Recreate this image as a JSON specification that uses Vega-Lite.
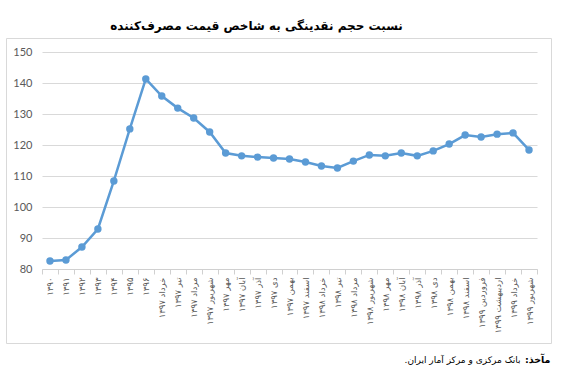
{
  "$schema": "https://vega.github.io/schema/vega-lite/v6.json",
  "width": 545,
  "height": 305,
  "autosize": {"type": "none"},
  "padding": {"left": 6, "top": 38, "right": 12, "bottom": 31},
  "background": "white",
  "title": {
    "text": "نسبت حجم نقدینگی به شاخص قیمت مصرف‌کننده",
    "font": "DejaVu Sans",
    "fontSize": 12,
    "fontWeight": "bold",
    "color": "#000000",
    "anchor": "middle",
    "frame": "group",
    "dx": -22,
    "offset": 5
  },
  "config": {
    "view": {"stroke": "#d9d9d9", "strokeWidth": 1}
  },
  "data": {
    "values": [
      {"label": "۱۳۹۰", "value": 82.6},
      {"label": "۱۳۹۱", "value": 82.9},
      {"label": "۱۳۹۲", "value": 87.1},
      {"label": "۱۳۹۳", "value": 92.9},
      {"label": "۱۳۹۴", "value": 108.4},
      {"label": "۱۳۹۵", "value": 125.2},
      {"label": "۱۳۹۶", "value": 141.3},
      {"label": "خرداد ۱۳۹۷", "value": 135.8},
      {"label": "تیر ۱۳۹۷", "value": 131.9},
      {"label": "مرداد ۱۳۹۷", "value": 128.7},
      {"label": "شهریور ۱۳۹۷", "value": 124.2},
      {"label": "مهر ۱۳۹۷", "value": 117.4},
      {"label": "آبان ۱۳۹۷", "value": 116.5},
      {"label": "آذر ۱۳۹۷", "value": 116.1},
      {"label": "دی ۱۳۹۷", "value": 115.8},
      {"label": "بهمن ۱۳۹۷", "value": 115.5},
      {"label": "اسفند ۱۳۹۷", "value": 114.5},
      {"label": "خرداد ۱۳۹۸", "value": 113.2},
      {"label": "تیر ۱۳۹۸", "value": 112.6},
      {"label": "مرداد ۱۳۹۸", "value": 114.8},
      {"label": "شهریور ۱۳۹۸", "value": 116.8},
      {"label": "مهر ۱۳۹۸", "value": 116.5},
      {"label": "آبان ۱۳۹۸", "value": 117.4},
      {"label": "آذر ۱۳۹۸", "value": 116.5},
      {"label": "دی ۱۳۹۸", "value": 118.1},
      {"label": "بهمن ۱۳۹۸", "value": 120.3},
      {"label": "اسفند ۱۳۹۸", "value": 123.2},
      {"label": "فروردین ۱۳۹۹", "value": 122.6},
      {"label": "اردیبهشت ۱۳۹۹", "value": 123.5},
      {"label": "خرداد ۱۳۹۹", "value": 123.9},
      {"label": "شهریور ۱۳۹۹", "value": 118.4}
    ]
  },
  "encoding": {
    "x": {
      "field": "label",
      "type": "ordinal",
      "sort": null,
      "bandPosition": 0.5,
      "scale": {"type": "band", "range": [36, 531], "paddingInner": 0, "paddingOuter": 0},
      "axis": {
        "orient": "bottom",
        "offset": -74,
        "grid": false,
        "domainColor": "#d0d0d0",
        "tickColor": "#d0d0d0",
        "tickSize": 5,
        "tickBand": "extent",
        "labelAngle": -90,
        "labelPadding": 3,
        "labelFont": "DejaVu Sans",
        "labelFontSize": 8.5,
        "labelColor": "#595959",
        "labelOverlap": false,
        "labelBound": false,
        "title": "بانک مرکزی و مرکز آمار ایران.‏",
        "titleFont": "DejaVu Sans",
        "titleFontSize": 9,
        "titleFontWeight": "normal",
        "titleColor": "#000000",
        "titleAngle": 0,
        "titleAlign": "right",
        "titleBaseline": "alphabetic",
        "titleX": 514,
        "titleY": 93
      }
    },
    "y": {
      "field": "value",
      "type": "quantitative",
      "scale": {"domain": [80, 150], "range": [231, 14], "nice": false, "zero": false},
      "axis": {
        "orient": "left",
        "offset": -28,
        "values": [80, 90, 100, 110, 120, 130, 140, 150],
        "domain": false,
        "ticks": false,
        "grid": true,
        "gridColor": "#d9d9d9",
        "gridWidth": 1,
        "labelPadding": 2,
        "labelFont": "Lato",
        "labelFontSize": 11,
        "labelColor": "#595959",
        "title": "مآخذ:‏",
        "titleFont": "DejaVu Sans",
        "titleFontSize": 9.5,
        "titleFontWeight": "bold",
        "titleColor": "#000000",
        "titleAngle": 0,
        "titleAlign": "right",
        "titleBaseline": "alphabetic",
        "titleX": 516,
        "titleY": 324
      }
    }
  },
  "layer": [
    {"mark": {"type": "line", "color": "#5B9BD5", "strokeWidth": 2.5}},
    {"mark": {"type": "point", "filled": true, "color": "#5B9BD5", "size": 55, "opacity": 1}}
  ]
}
